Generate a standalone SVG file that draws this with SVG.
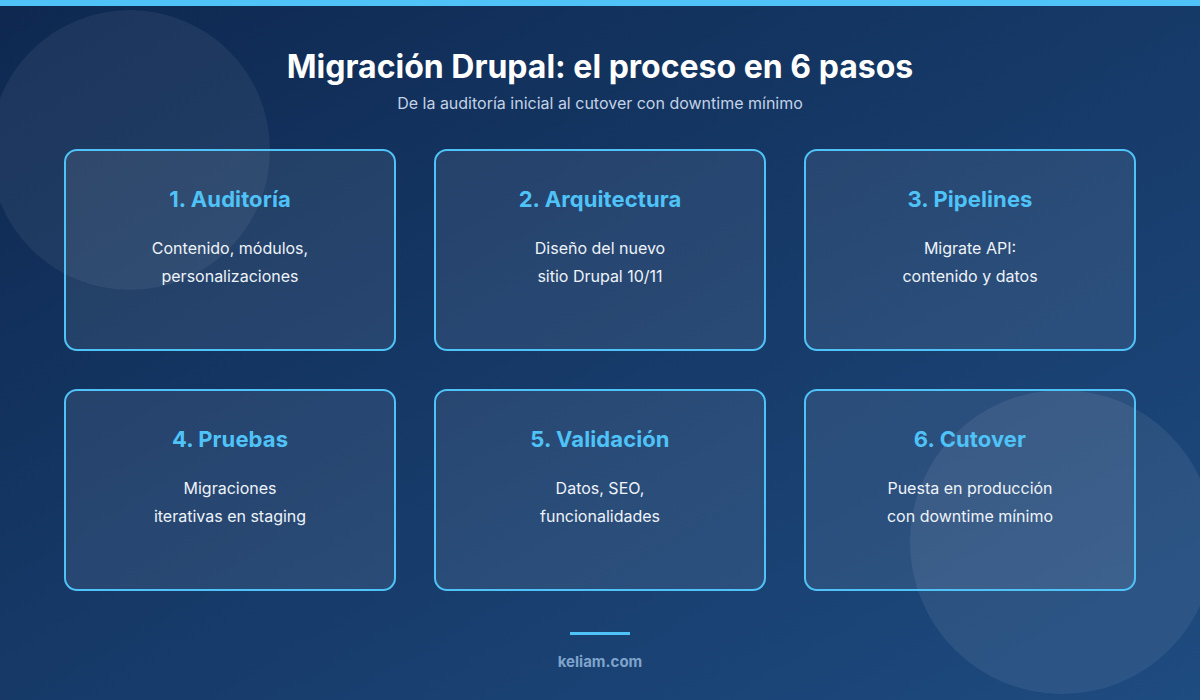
<svg xmlns="http://www.w3.org/2000/svg" width="1200" height="700" viewBox="0 0 1200 700">
  <defs>
    <linearGradient id="bg" x1="0" y1="0" x2="1" y2="1">
      <stop offset="0" stop-color="#0e2850"/>
      <stop offset="1" stop-color="#1e4b80"/>
    </linearGradient>
    <style>
      .card{fill:#ffffff;fill-opacity:0.08;stroke:#4fc3f7;stroke-width:2}
      .ttl{font-family:Inter,"Liberation Sans",sans-serif;font-weight:700;font-size:22px;fill:#4fc3f7;text-anchor:middle;letter-spacing:0.1px}
      .desc{font-family:Inter,"Liberation Sans",sans-serif;font-size:16px;fill:#eef3f9;text-anchor:middle}
    </style>
  </defs>
  <rect width="1200" height="700" fill="url(#bg)"/>
  <circle cx="130" cy="150" r="140" fill="#ffffff" fill-opacity="0.06"/>
  <circle cx="1062" cy="542" r="152" fill="#ffffff" fill-opacity="0.07"/>
  <rect x="0" y="0" width="1200" height="6" fill="#4fc3f7"/>
  <text x="600" y="78" text-anchor="middle" font-family="Inter,'Liberation Sans',sans-serif" font-size="32" font-weight="700" fill="#ffffff">Migración Drupal: el proceso en 6 pasos</text>
  <text x="600" y="109" text-anchor="middle" font-family="Inter,'Liberation Sans',sans-serif" font-size="16" fill="#c3d2e6">De la auditoría inicial al cutover con downtime mínimo</text>
  <g id="node1">
    <rect class="card" x="65" y="150" width="330" height="200" rx="12"/>
    <text class="ttl" x="230" y="207">1. Auditoría</text>
    <text class="desc" x="230" y="254">Contenido, módulos,</text>
    <text class="desc" x="230" y="282">personalizaciones</text>
  </g>
  <g id="node2">
    <rect class="card" x="435" y="150" width="330" height="200" rx="12"/>
    <text class="ttl" x="600" y="207">2. Arquitectura</text>
    <text class="desc" x="600" y="254">Diseño del nuevo</text>
    <text class="desc" x="600" y="282">sitio Drupal 10/11</text>
  </g>
  <g id="node3">
    <rect class="card" x="805" y="150" width="330" height="200" rx="12"/>
    <text class="ttl" x="970" y="207">3. Pipelines</text>
    <text class="desc" x="970" y="254">Migrate API:</text>
    <text class="desc" x="970" y="282">contenido y datos</text>
  </g>
  <g id="node4">
    <rect class="card" x="65" y="390" width="330" height="200" rx="12"/>
    <text class="ttl" x="230" y="447">4. Pruebas</text>
    <text class="desc" x="230" y="494">Migraciones</text>
    <text class="desc" x="230" y="522">iterativas en staging</text>
  </g>
  <g id="node5">
    <rect class="card" x="435" y="390" width="330" height="200" rx="12"/>
    <text class="ttl" x="600" y="447">5. Validación</text>
    <text class="desc" x="600" y="494">Datos, SEO,</text>
    <text class="desc" x="600" y="522">funcionalidades</text>
  </g>
  <g id="node6">
    <rect class="card" x="805" y="390" width="330" height="200" rx="12"/>
    <text class="ttl" x="970" y="447">6. Cutover</text>
    <text class="desc" x="970" y="494">Puesta en producción</text>
    <text class="desc" x="970" y="522">con downtime mínimo</text>
  </g>
  <g id="connectors"/>
  <rect x="570" y="632" width="60" height="3" fill="#4fc3f7"/>
  <text x="600" y="667" text-anchor="middle" font-family="Inter,'Liberation Sans',sans-serif" font-size="15" font-weight="700" fill="#7fa4cc">keliam.com</text>
</svg>
